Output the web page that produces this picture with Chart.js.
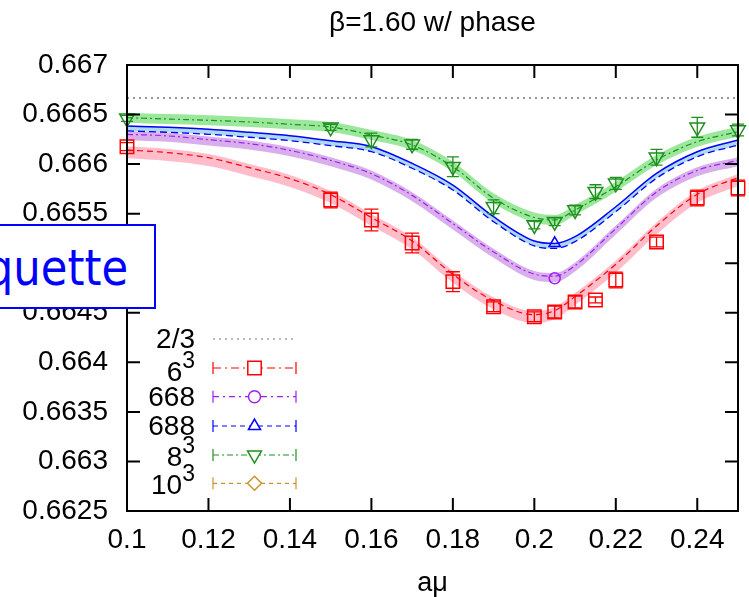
<!DOCTYPE html>
<html>
<head>
<meta charset="utf-8">
<script src="https://cdn.jsdelivr.net/npm/chart.js@4.4.1/dist/chart.umd.min.js"></script>
<style>
  html, body { margin: 0; padding: 0; background: #fff; }
  #wrap { position: relative; width: 749px; height: 597px; overflow: hidden; }
  canvas { display: block; }
  .lab { position: absolute; right: 554px; font: 28px 'Liberation Sans', Arial, sans-serif; line-height: 28px; white-space: nowrap; color: #000; }
  .lab sup { font-size: 23px; vertical-align: baseline; position: relative; top: -13px; }
  #tag { position: absolute; left: -120px; top: 224px; width: 276px; height: 85px; box-sizing: border-box; border: 2px solid #0000ff; background: #fff; }
  #tagText { position: absolute; right: 621px; top: 244px; font: 49px 'DejaVu Sans', sans-serif; line-height: 49px; color: #0000ff; white-space: nowrap; transform: scaleX(0.885); transform-origin: right center; }
</style>
</head>
<body>
<div id="wrap">
  <canvas id="plot" width="749" height="597"></canvas>
  <div class="lab" style="top:325px">2/3</div>
  <div class="lab" style="top:358px">6<sup>3</sup></div>
  <div class="lab" style="top:383px">668</div>
  <div class="lab" style="top:412px">688</div>
  <div class="lab" style="top:443px">8<sup>3</sup></div>
  <div class="lab" style="top:471px">10<sup>3</sup></div>
  <div id="tag"></div>
  <div id="tagText">Plaquette</div>
</div>
<script>
const fitX = [0.1, 0.11, 0.12, 0.13, 0.14, 0.15, 0.16, 0.17, 0.18, 0.19, 0.2, 0.205, 0.21, 0.22, 0.23, 0.24, 0.25];
const fit6   = [0.666119, 0.666092, 0.666041, 0.665941, 0.66583, 0.665668, 0.665436, 0.665201, 0.664864, 0.664596, 0.664457, 0.664498, 0.664639, 0.664965, 0.665352, 0.665671, 0.66584];
const fit668 = [0.666287, 0.666271, 0.666233, 0.666193, 0.666125, 0.666024, 0.66589, 0.665671, 0.665386, 0.6651, 0.664876, 0.664856, 0.664962, 0.665335, 0.665705, 0.665923, 0.666024];
const fit688 = [0.666385, 0.666371, 0.666351, 0.666321, 0.666287, 0.666236, 0.666176, 0.666008, 0.665789, 0.665469, 0.665224, 0.665199, 0.665268, 0.66557, 0.665907, 0.666125, 0.666243];
const fit8   = [0.666468, 0.666455, 0.666442, 0.666425, 0.666402, 0.666374, 0.666294, 0.666193, 0.665974, 0.665655, 0.665461, 0.665436, 0.665537, 0.665772, 0.666041, 0.666226, 0.666327];
const band6 = 0.00006, band668 = 0.000045, band688 = 0.00005, band8 = 0.00005;

// measured points
const ptsX    = [0.1, 0.15, 0.16, 0.17, 0.18, 0.19, 0.2, 0.205, 0.21, 0.215, 0.22, 0.23, 0.24, 0.25];
const pts6Y   = [0.666176, 0.665638, 0.665436, 0.665204, 0.664814, 0.664561, 0.66446, 0.664508, 0.664609, 0.664629, 0.664831, 0.665214, 0.665658, 0.665759];
const pts6Err = [0.00004, 0.00008, 0.00011, 0.0001, 0.0001, 0.00005, 0.00005, 0.00006, 0.00006, 0.00003, 0.00008, 0.00005, 0.00008, 0.00008];
const pts8Y   = [0.666462, 0.666371, 0.666243, 0.6662, 0.665974, 0.66557, 0.665386, 0.665419, 0.665537, 0.665722, 0.665806, 0.666069, 0.666371, 0.666344];
const pts8Err = [0.00003, 0.00003, 0.00007, 0.00005, 0.0001, 0.00007, 0.00004, 0.00004, 0.00005, 0.00007, 0.00006, 0.00008, 0.0001, 0.00006];
const pt668 = [0.205, 0.664848];
const pt688 = [0.205, 0.665201];
const twoThirds = 2 / 3;

const xTicksFrom = 0.1, xTicksTo = 0.25, xStep = 0.02;
const yTicksFrom = 0.6625, yTicksTo = 0.667, yStep = 0.0005;

const RED = '#ff0000', PURPLE = '#a020f0', BLUE = '#0000ff', GREEN = '#1f8f1f', GOLD = '#c8962e';
const FONT = "'Liberation Sans', Arial, sans-serif";

const xy = (xs, ys, d = 0) => xs.map((v, i) => ({ x: v, y: ys[i] + d }));

const datasets = [];
function addBand(fit, half, fill, lo) {
  const base = datasets.length;
  datasets.push({ data: xy(fitX, fit, lo !== undefined ? lo : -half), borderWidth: 0, pointRadius: 0, fill: false, order: 3, cubicInterpolationMode: 'monotone' });
  datasets.push({ data: xy(fitX, fit, lo !== undefined ? 0 : half), borderWidth: 0, pointRadius: 0, fill: { target: base }, backgroundColor: fill, order: 3, cubicInterpolationMode: 'monotone' });
}
addBand(fit6, band6, 'rgba(255,185,200,0.95)');
addBand(fit668, band668, 'rgba(215,170,235,0.95)');
addBand(fit688, band688, 'rgba(170,215,235,0.95)', -band688);
addBand(fit8, band8, 'rgba(150,230,150,0.95)');

function addLine(fit, color, dash, width, shift = 0) {
  datasets.push({ data: xy(fitX, fit, shift), borderColor: color, borderWidth: width, borderDash: dash, pointRadius: 0, fill: false, order: 2, cubicInterpolationMode: 'monotone' });
}
addLine(fit6, RED, [6, 4], 1.2, band6 * 0.4);
addLine(fit668, PURPLE, [6, 3, 2, 3], 1.2, band668 * 0.3);
addLine(fit688, BLUE, [], 1.5);
addLine(fit688, BLUE, [7, 4], 1.3, -band688);
addLine(fit8, GREEN, [6, 3, 2, 3], 1.2);

datasets.push({ data: [{ x: xTicksFrom, y: twoThirds }, { x: xTicksTo, y: twoThirds }], borderColor: '#777', borderWidth: 1.5, borderDash: [2, 4], pointRadius: 0, fill: false, order: 2 });

function addPoints(xs, ys, color, style, radius, rotation) {
  datasets.push({ data: xy(xs, ys), showLine: false, pointStyle: style, pointRadius: radius, pointRotation: rotation || 0,
    pointBorderColor: color, pointBackgroundColor: 'rgba(0,0,0,0)', pointBorderWidth: 1.5, order: 0, clip: false });
}
addPoints(ptsX, pts6Y, RED, 'rect', 9.5);
addPoints(ptsX, pts8Y, GREEN, 'triangle', 8.5, 180);
addPoints([pt668[0]], [pt668[1]], PURPLE, 'circle', 5.5);
addPoints([pt688[0]], [pt688[1]], BLUE, 'triangle', 6.5);

function errorBars(ctx, sx, sy, xs, ys, errs, color, cap) {
  ctx.strokeStyle = color;
  ctx.lineWidth = 1.3;
  xs.forEach((v, i) => {
    const px = sx.getPixelForValue(v);
    const top = sy.getPixelForValue(ys[i] + errs[i]);
    const bot = sy.getPixelForValue(ys[i] - errs[i]);
    ctx.beginPath();
    ctx.moveTo(px, top); ctx.lineTo(px, bot);
    ctx.moveTo(px - cap, top); ctx.lineTo(px + cap, top);
    ctx.moveTo(px - cap, bot); ctx.lineTo(px + cap, bot);
    ctx.stroke();
  });
}

// key symbols drawn next to the HTML labels
const keyRows = [339, 368, 396.7, 426, 455, 483.3];
const keyStyles = [
  { color: '#777', dash: [2, 4], marker: null, caps: false },
  { color: RED, dash: [8, 4, 2, 4], marker: { pointStyle: 'rect', radius: 9.5 }, caps: true },
  { color: PURPLE, dash: [6, 4, 2, 4], marker: { pointStyle: 'circle', radius: 6 }, caps: true },
  { color: BLUE, dash: [5, 4], marker: { pointStyle: 'triangle', radius: 7 }, caps: true },
  { color: GREEN, dash: [6, 3, 2, 3], marker: { pointStyle: 'triangle', radius: 8, rotation: 180 }, caps: true },
  { color: GOLD, dash: [4, 4], marker: { pointStyle: 'rectRot', radius: 7 }, caps: true }
];

const decor = {
  id: 'decor',
  afterDatasetsDraw(chart) {
    const { ctx, scales } = chart;
    ctx.save();
    errorBars(ctx, scales.x, scales.y, ptsX, pts6Y, pts6Err, RED, 7);
    errorBars(ctx, scales.x, scales.y, ptsX, pts8Y, pts8Err, GREEN, 6);
    ctx.restore();
  },
  afterDraw(chart) {
    const { ctx, chartArea: a, scales } = chart;
    ctx.save();
    ctx.strokeStyle = '#000';
    ctx.lineWidth = 2;
    ctx.strokeRect(a.left, a.top, a.right - a.left, a.bottom - a.top);
    ctx.beginPath();
    scales.x.ticks.forEach(t => {
      const px = scales.x.getPixelForValue(t.value);
      ctx.moveTo(px, a.bottom); ctx.lineTo(px, a.bottom - 13);
      ctx.moveTo(px, a.top); ctx.lineTo(px, a.top + 13);
    });
    scales.y.ticks.forEach(t => {
      const py = scales.y.getPixelForValue(t.value);
      ctx.moveTo(a.left, py); ctx.lineTo(a.left + 13, py);
      ctx.moveTo(a.right, py); ctx.lineTo(a.right - 13, py);
    });
    ctx.stroke();

    const x1 = 213, x2 = 296, xm = 254.5;
    keyStyles.forEach((k, i) => {
      const ry = keyRows[i];
      ctx.strokeStyle = k.color;
      ctx.lineWidth = 1.2;
      ctx.setLineDash(k.dash);
      ctx.beginPath();
      ctx.moveTo(x1, ry); ctx.lineTo(x2, ry);
      ctx.stroke();
      ctx.setLineDash([]);
      if (k.caps) {
        ctx.beginPath();
        ctx.moveTo(x1, ry - 6); ctx.lineTo(x1, ry + 6);
        ctx.moveTo(x2, ry - 6); ctx.lineTo(x2, ry + 6);
        ctx.stroke();
      }
      if (k.marker) {
        ctx.lineWidth = 1.5;
        ctx.fillStyle = '#fff';
        Chart.helpers.drawPoint(ctx, Object.assign({ rotation: 0, borderWidth: 1.5 }, k.marker), xm, ry);
      }
    });
    ctx.restore();
  }
};

new Chart(document.getElementById('plot'), {
  type: 'line',
  data: { datasets: datasets },
  options: {
    responsive: false,
    animation: false,
    layout: { padding: { left: 0, right: 2, top: 0, bottom: 0 } },
    plugins: {
      legend: { display: false },
      tooltip: { enabled: false },
      filler: { drawTime: 'beforeDatasetsDraw' },
      title: {
        display: true,
        fullSize: false,
        text: 'β=1.60 w/ phase',
        color: '#000',
        font: { family: FONT, size: 28, weight: 'normal', lineHeight: 1.2 },
        padding: { top: 6, bottom: 25.4 }
      }
    },
    scales: {
      x: {
        type: 'linear',
        min: xTicksFrom,
        max: xTicksTo,
        grid: { display: false, drawTicks: false },
        border: { display: false },
        ticks: {
          stepSize: xStep,
          includeBounds: false,
          padding: 12,
          color: '#000',
          font: { family: FONT, size: 28 },
          callback: v => String(+v.toFixed(2))
        },
        title: { display: true, text: 'aμ', color: '#000', font: { family: FONT, size: 27, lineHeight: 1 }, padding: { top: 0, bottom: 0 } },
        afterFit: s => { s.height = 86; }
      },
      y: {
        min: yTicksFrom,
        max: yTicksTo,
        grid: { display: false, drawTicks: false },
        border: { display: false },
        ticks: {
          stepSize: yStep,
          padding: 19,
          color: '#000',
          font: { family: FONT, size: 28 },
          callback: v => String(+v.toFixed(4))
        },
        afterFit: s => { s.width = 127; }
      }
    }
  },
  plugins: [decor]
});
</script>
</body>
</html>
